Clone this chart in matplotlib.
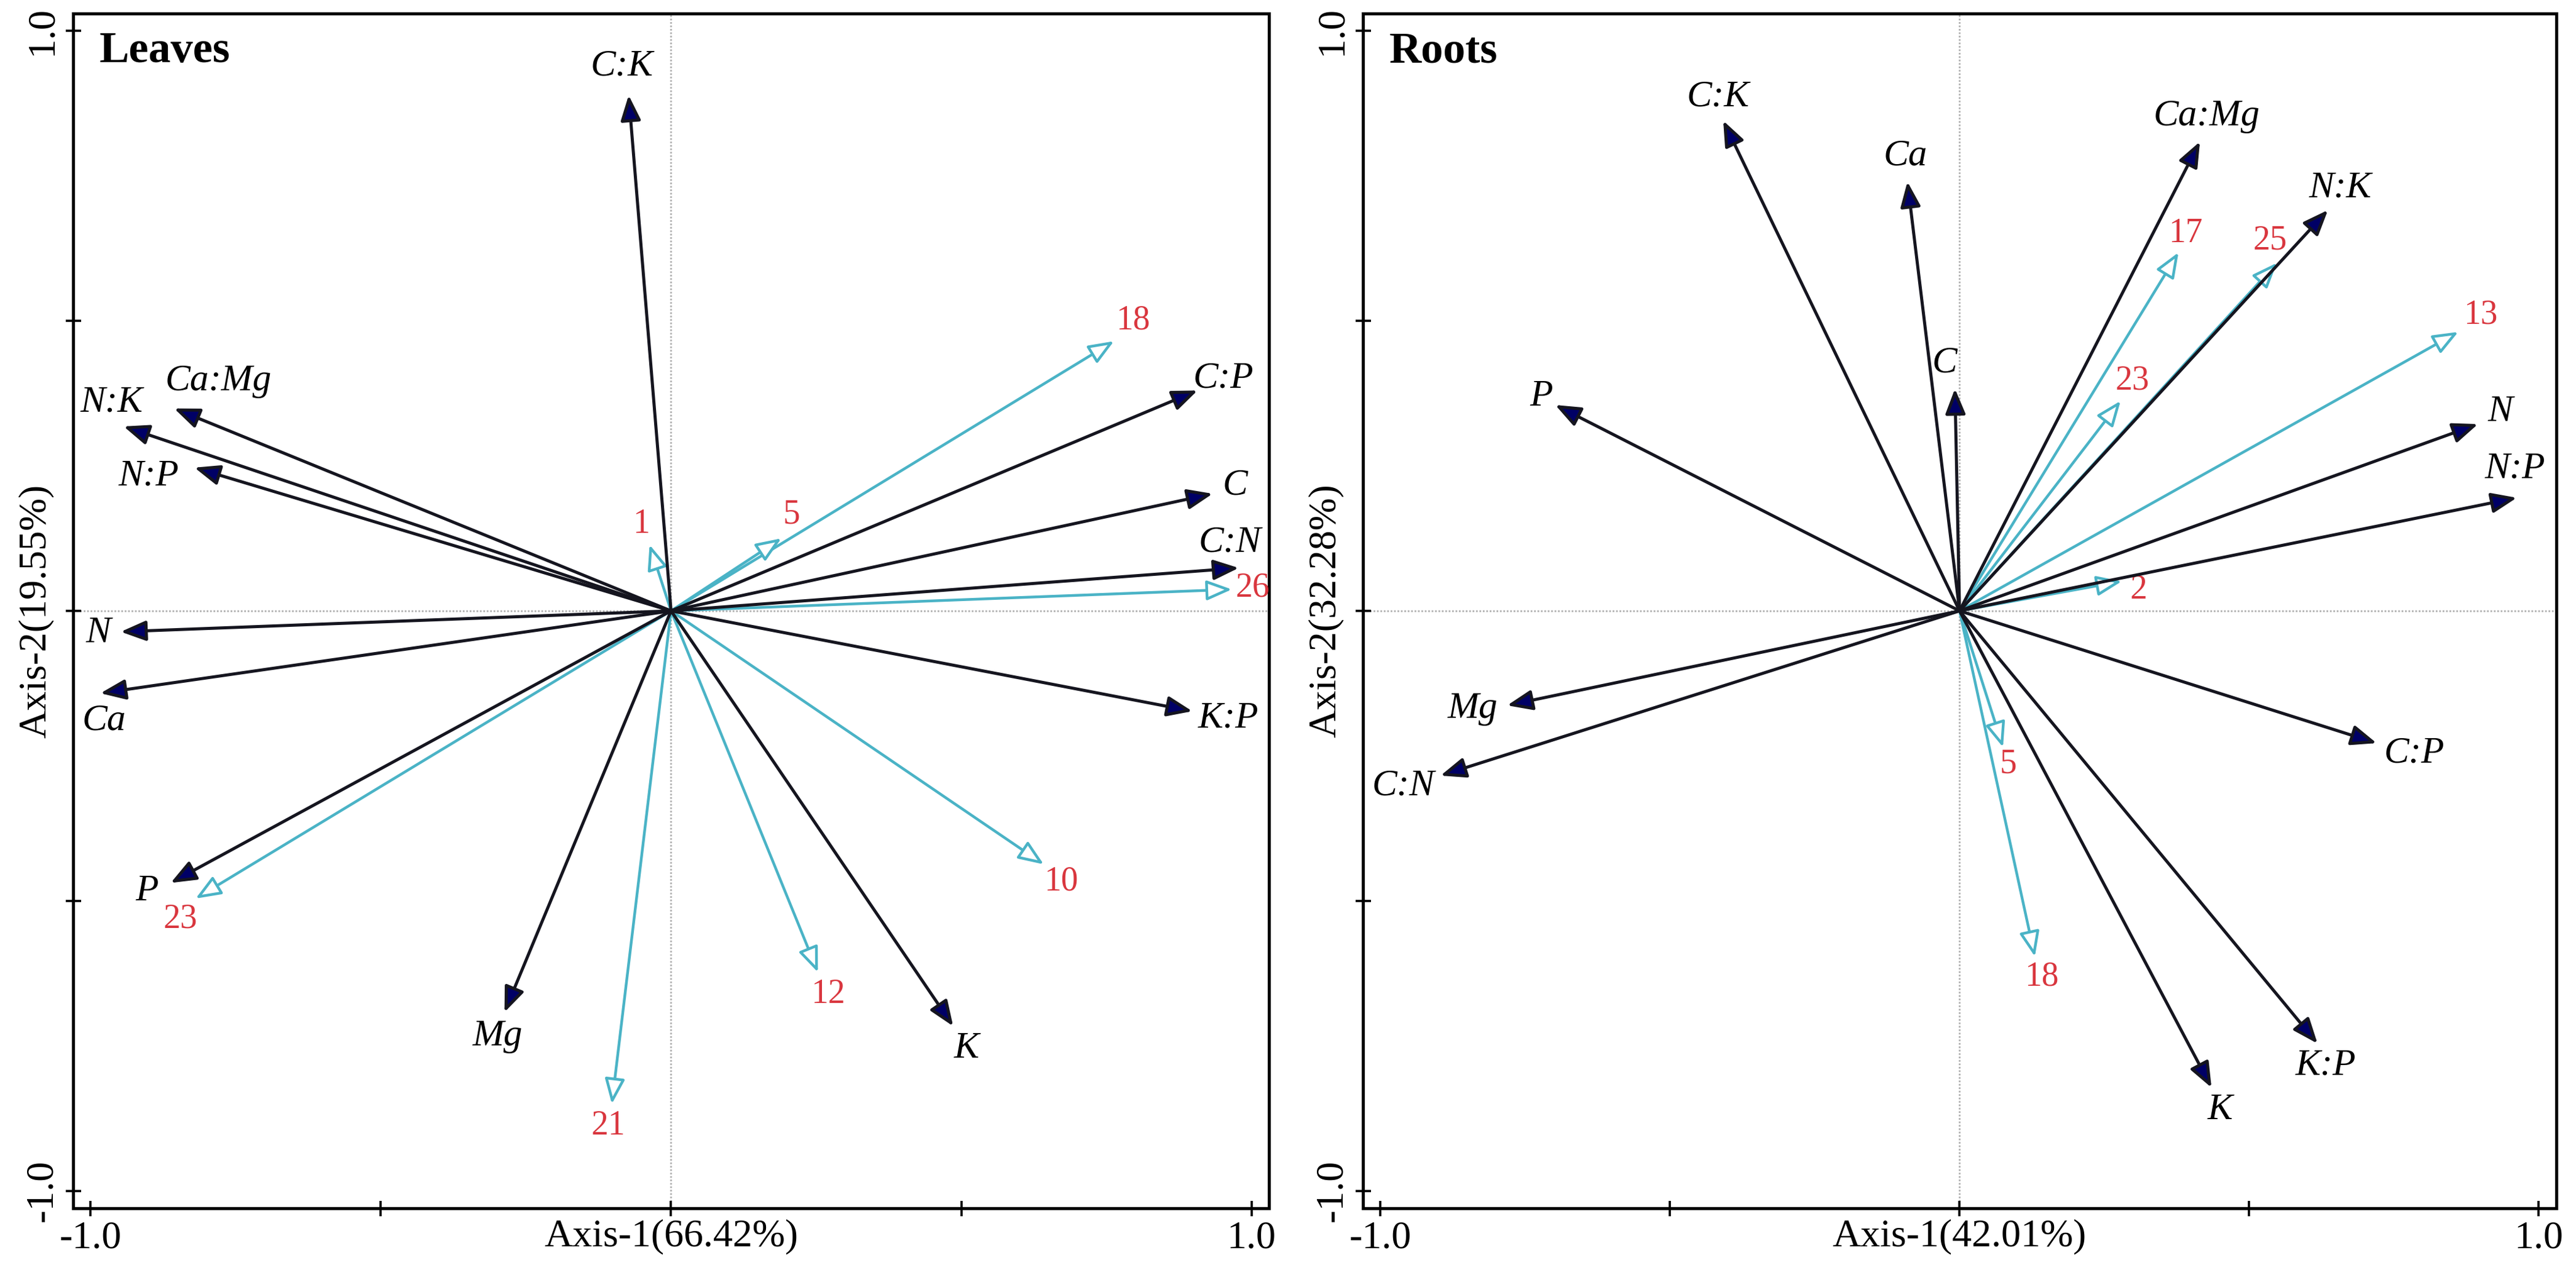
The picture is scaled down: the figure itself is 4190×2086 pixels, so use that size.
import matplotlib
matplotlib.use("Agg")
import matplotlib.pyplot as plt

plt.rcParams["font.family"] = ["Liberation Serif", "DejaVu Serif"]

# ---- data ----
leaves_vars = ["C:K", "Ca:Mg", "N:K", "N:P", "N", "Ca", "P", "Mg", "K", "K:P", "C:N", "C", "C:P"]
leaves_vx = [-0.073, -0.856, -0.943, -0.821, -0.948, -0.983, -0.862, -0.287, 0.486, 0.898, 0.978, 0.933, 0.907]
leaves_vy = [0.889, 0.349, 0.318, 0.247, -0.036, -0.142, -0.469, -0.692, -0.716, -0.173, 0.074, 0.202, 0.380]

leaves_samples = ["18", "5", "1", "26", "10", "12", "21", "23"]
leaves_sx = [0.763, 0.190, -0.037, 0.966, 0.642, 0.253, -0.102, -0.819]
leaves_sy = [0.465, 0.125, 0.114, 0.037, -0.437, -0.623, -0.850, -0.496]

roots_vars = ["C:K", "Ca", "C", "Ca:Mg", "N:K", "P", "N", "N:P", "Mg", "C:N", "C:P", "K:P", "K"]
roots_vx = [-0.408, -0.090, -0.008, 0.415, 0.636, -0.698, 0.895, 0.962, -0.781, -0.896, 0.720, 0.618, 0.435]
roots_vy = [0.845, 0.740, 0.383, 0.809, 0.691, 0.355, 0.322, 0.195, -0.163, -0.284, -0.228, -0.746, -0.822]

roots_samples = ["17", "25", "13", "23", "2", "5", "18"]
roots_sx = [0.378, 0.548, 0.861, 0.278, 0.280, 0.075, 0.130]
roots_sy = [0.618, 0.600, 0.481, 0.362, 0.051, -0.235, -0.596]

axis_labels = {
    "Leaves": ("Axis-1(66.42%)", "Axis-2(19.55%)"),
    "Roots": ("Axis-1(42.01%)", "Axis-2(32.28%)"),
}

# label offsets from arrow tips, in points
leaves_var_off = {"C:K": (-4, 17), "Ca:Mg": (26, 16), "N:K": (-7, 14), "N:P": (-27, -5),
                  "N": (-13, -1), "Ca": (2, -16), "P": (-14, -5), "Mg": (-4, -14),
                  "K": (8, -13), "K:P": (21, -4), "C:N": (-5, 15), "C": (13, 5), "C:P": (15, 7)}
leaves_smp_off = {"18": (11, 12), "5": (6, 14), "1": (-5, 12), "26": (12, 1),
                  "10": (10, -10), "12": (6, -13), "21": (-2, -13), "23": (-9, -12)}
roots_var_off = {"C:K": (-3, 14), "Ca": (-1, 15), "C": (-6, 15), "Ca:Mg": (4, 15),
                 "N:K": (7, 13), "P": (-8, 5), "N": (13, 7), "N:P": (-1, 17),
                 "Mg": (-20, -2), "C:N": (-22, -6), "C:P": (22, -6), "K:P": (5, -13), "K": (5, -13)}
roots_smp_off = {"17": (4, 11), "25": (-4, 13), "13": (13, 10), "23": (7, 12),
                 "2": (10, -5), "5": (3, -10), "18": (4, -12)}

VAR_LINE = "#15151f"
VAR_HEAD = "#000066"
SMP_LINE = "#4ab3c6"
SMP_TEXT = "#d9363e"
HEAD = "-|>,head_length=0.5,head_width=0.2"


def biplot(ax, title, vnames, vx, vy, voff, snames, sx, sy, soff):
    ax.set_xlim(-1.03, 1.03)
    ax.set_ylim(-1.03, 1.03)
    ax.axhline(0, color="#b0b0b0", lw=1.0, ls=(0, (1, 1)), zorder=0)
    ax.axvline(0, color="#b0b0b0", lw=1.0, ls=(0, (1, 1)), zorder=0)

    for name, x, y in zip(snames, sx, sy):
        ax.annotate("", xy=(x, y), xytext=(0, 0),
                    arrowprops=dict(arrowstyle=HEAD, mutation_scale=25, lw=1.6,
                                    ec=SMP_LINE, fc="white", shrinkA=0, shrinkB=0))
        ax.annotate(name, xy=(x, y), xytext=soff[name], textcoords="offset points",
                    ha="center", va="center", color=SMP_TEXT, fontsize=20)

    for name, x, y in zip(vnames, vx, vy):
        ax.annotate("", xy=(x, y), xytext=(0, 0),
                    arrowprops=dict(arrowstyle=HEAD, mutation_scale=25, lw=1.8,
                                    ec=VAR_LINE, fc=VAR_HEAD, shrinkA=0, shrinkB=0))
        ax.annotate(name, xy=(x, y), xytext=voff[name], textcoords="offset points",
                    ha="center", va="center", fontsize=22, style="italic")

    ax.text(0.022, 0.985, title, transform=ax.transAxes, ha="left", va="top",
            fontsize=26, fontweight="bold")

    ticks = [-1.0, -0.5, 0.0, 0.5, 1.0]
    ax.set_xticks(ticks)
    ax.set_yticks(ticks)
    ax.set_xticklabels(["-1.0", "", "", "", "1.0"])
    ax.set_yticklabels(["-1.0", "", "", "", "1.0"], rotation=90, va="center")
    ax.tick_params(direction="inout", length=9, width=1.3, labelsize=23, pad=3)

    xl, yl = axis_labels[title]
    ax.set_xlabel(xl, fontsize=23)
    ax.set_ylabel(yl, fontsize=23)
    ax.xaxis.set_label_coords(0.5, -0.009)
    ax.yaxis.set_label_coords(-0.016, 0.5)
    for s in ax.spines.values():
        s.set_linewidth(1.8)


fig = plt.figure(figsize=(20.95, 10.43), dpi=200)
ax1 = fig.add_axes([0.0284, 0.0575, 0.4642, 0.932])
ax2 = fig.add_axes([0.5291, 0.0575, 0.4632, 0.932])

biplot(ax1, "Leaves", leaves_vars, leaves_vx, leaves_vy, leaves_var_off,
       leaves_samples, leaves_sx, leaves_sy, leaves_smp_off)
biplot(ax2, "Roots", roots_vars, roots_vx, roots_vy, roots_var_off,
       roots_samples, roots_sx, roots_sy, roots_smp_off)

fig.savefig("out.png", dpi=200)
